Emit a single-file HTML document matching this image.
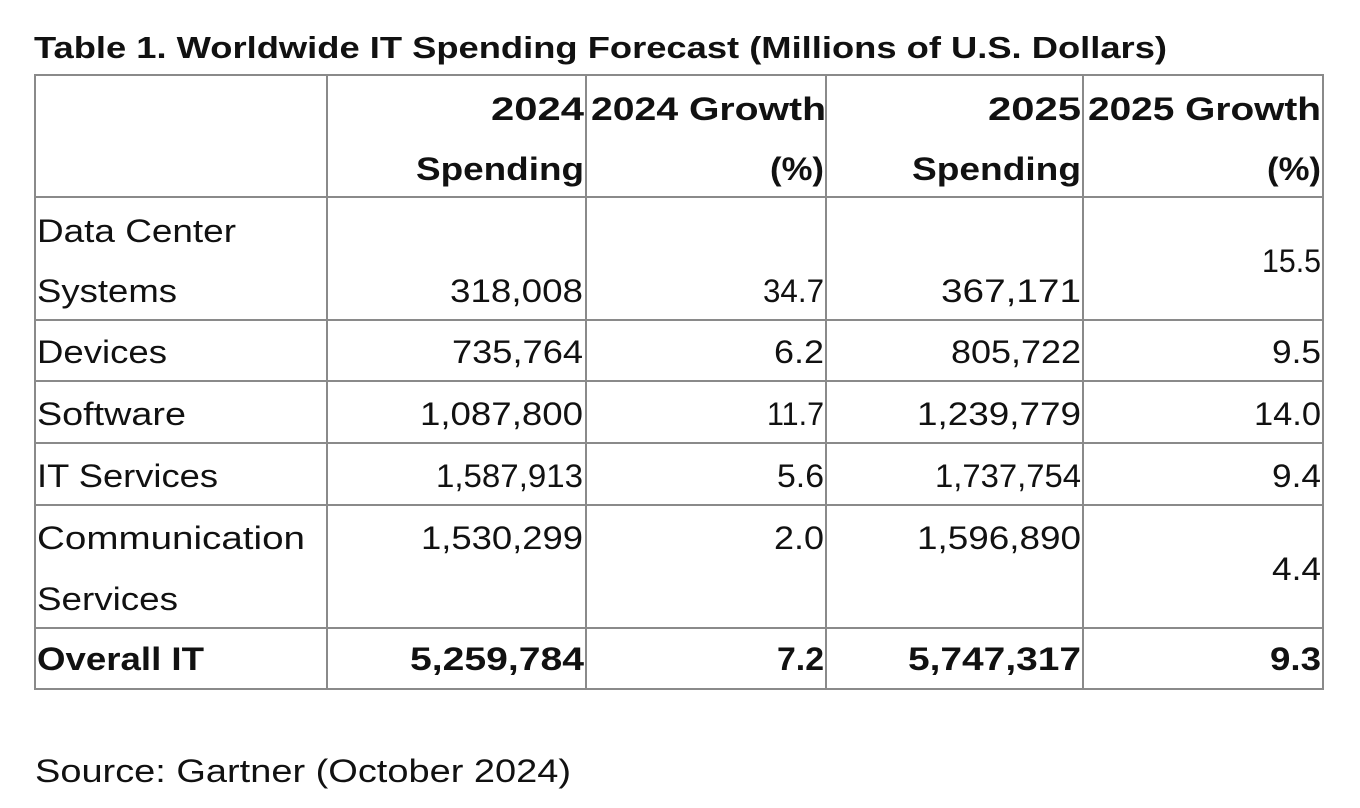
<!DOCTYPE html>
<html><head><meta charset="utf-8"><style>
html,body{margin:0;padding:0;background:#fff;width:1360px;height:808px;overflow:hidden}
svg{display:block}
text{font-family:"Liberation Sans",sans-serif;fill:#111}
.b{font-weight:bold}
</style></head><body>
<svg width="1360" height="808">
<text class="b" x="34" y="58" font-size="31" textLength="1133" lengthAdjust="spacingAndGlyphs">Table 1. Worldwide IT Spending Forecast (Millions of U.S. Dollars)</text>
<g stroke="#8a8a8a" stroke-width="2" fill="none">
<rect x="35" y="75" width="1288" height="614"/>
<line x1="327" y1="75" x2="327" y2="689"/><line x1="586" y1="75" x2="586" y2="689"/>
<line x1="826" y1="75" x2="826" y2="689"/><line x1="1083" y1="75" x2="1083" y2="689"/>
<line x1="35" y1="197" x2="1323" y2="197"/><line x1="35" y1="320" x2="1323" y2="320"/>
<line x1="35" y1="381" x2="1323" y2="381"/><line x1="35" y1="443" x2="1323" y2="443"/>
<line x1="35" y1="505" x2="1323" y2="505"/><line x1="35" y1="628" x2="1323" y2="628"/>
</g>
<g font-size="32" text-anchor="end">
<text class="b" x="584" y="120" textLength="93" lengthAdjust="spacingAndGlyphs">2024</text>
<text class="b" x="826" y="120" textLength="235" lengthAdjust="spacingAndGlyphs">2024 Growth</text>
<text class="b" x="1081" y="120" textLength="93" lengthAdjust="spacingAndGlyphs">2025</text>
<text class="b" x="1321" y="120" textLength="233" lengthAdjust="spacingAndGlyphs">2025 Growth</text>
<text class="b" x="584" y="180" textLength="168" lengthAdjust="spacingAndGlyphs">Spending</text>
<text class="b" x="824" y="180" textLength="54" lengthAdjust="spacingAndGlyphs">(%)</text>
<text class="b" x="1081" y="180" textLength="169" lengthAdjust="spacingAndGlyphs">Spending</text>
<text class="b" x="1321" y="180" textLength="54" lengthAdjust="spacingAndGlyphs">(%)</text>
</g>
<g font-size="32">
<text x="37" y="242" textLength="199" lengthAdjust="spacingAndGlyphs">Data Center</text>
<text x="37" y="302" textLength="140" lengthAdjust="spacingAndGlyphs">Systems</text>
<text x="37" y="363" textLength="130" lengthAdjust="spacingAndGlyphs">Devices</text>
<text x="37" y="425" textLength="149" lengthAdjust="spacingAndGlyphs">Software</text>
<text x="37" y="487" textLength="181" lengthAdjust="spacingAndGlyphs">IT Services</text>
<text x="37" y="549" textLength="268" lengthAdjust="spacingAndGlyphs">Communication</text>
<text x="37" y="610" textLength="141" lengthAdjust="spacingAndGlyphs">Services</text>
<text class="b" x="37" y="670" textLength="167" lengthAdjust="spacingAndGlyphs">Overall IT</text>
</g>
<g font-size="32" text-anchor="end">
<text x="583" y="302" textLength="133" lengthAdjust="spacingAndGlyphs">318,008</text>
<text x="824" y="302" textLength="61" lengthAdjust="spacingAndGlyphs">34.7</text>
<text x="1081" y="302" textLength="140" lengthAdjust="spacingAndGlyphs">367,171</text>
<text x="1321" y="272" textLength="59" lengthAdjust="spacingAndGlyphs">15.5</text>
<text x="583" y="363" textLength="131" lengthAdjust="spacingAndGlyphs">735,764</text>
<text x="824" y="363" textLength="50" lengthAdjust="spacingAndGlyphs">6.2</text>
<text x="1081" y="363" textLength="130" lengthAdjust="spacingAndGlyphs">805,722</text>
<text x="1321" y="363" textLength="49" lengthAdjust="spacingAndGlyphs">9.5</text>
<text x="583" y="425" textLength="163" lengthAdjust="spacingAndGlyphs">1,087,800</text>
<text x="824" y="425" textLength="57" lengthAdjust="spacingAndGlyphs">11.7</text>
<text x="1081" y="425" textLength="164" lengthAdjust="spacingAndGlyphs">1,239,779</text>
<text x="1321" y="425" textLength="67" lengthAdjust="spacingAndGlyphs">14.0</text>
<text x="583" y="487" textLength="147" lengthAdjust="spacingAndGlyphs">1,587,913</text>
<text x="824" y="487" textLength="47" lengthAdjust="spacingAndGlyphs">5.6</text>
<text x="1081" y="487" textLength="146" lengthAdjust="spacingAndGlyphs">1,737,754</text>
<text x="1321" y="487" textLength="49" lengthAdjust="spacingAndGlyphs">9.4</text>
<text x="583" y="549" textLength="162" lengthAdjust="spacingAndGlyphs">1,530,299</text>
<text x="824" y="549" textLength="50" lengthAdjust="spacingAndGlyphs">2.0</text>
<text x="1081" y="549" textLength="164" lengthAdjust="spacingAndGlyphs">1,596,890</text>
<text x="1321" y="580" textLength="49" lengthAdjust="spacingAndGlyphs">4.4</text>
<text class="b" x="584" y="670" textLength="174" lengthAdjust="spacingAndGlyphs">5,259,784</text>
<text class="b" x="824" y="670" textLength="47" lengthAdjust="spacingAndGlyphs">7.2</text>
<text class="b" x="1081" y="670" textLength="173" lengthAdjust="spacingAndGlyphs">5,747,317</text>
<text class="b" x="1321" y="670" textLength="51" lengthAdjust="spacingAndGlyphs">9.3</text>
</g>
<text x="35" y="782" font-size="32" textLength="536" lengthAdjust="spacingAndGlyphs">Source: Gartner (October 2024)</text>
</svg>
</body></html>
